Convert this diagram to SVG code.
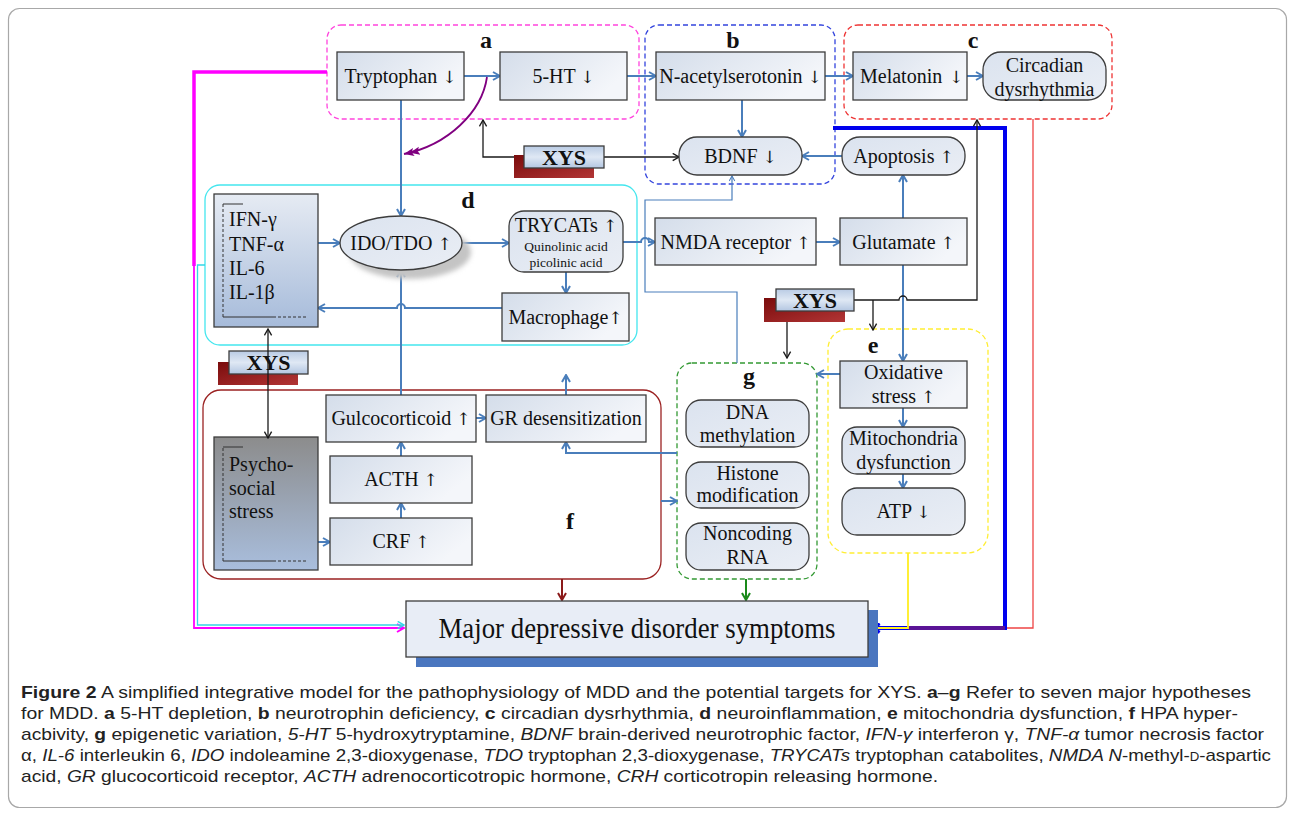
<svg xmlns="http://www.w3.org/2000/svg" width="1295" height="816" viewBox="0 0 1295 816">
<defs>
<linearGradient id="gBox" x1="0" y1="0" x2="1" y2="0.4"><stop offset="0" stop-color="#d4ddea"/><stop offset="1" stop-color="#f4f6fa"/></linearGradient>
<linearGradient id="gRnd" x1="0" y1="0" x2="1" y2="1"><stop offset="0" stop-color="#dbe3ef"/><stop offset="1" stop-color="#eaeef5"/></linearGradient>
<linearGradient id="gIfn" x1="0" y1="0" x2="0" y2="1"><stop offset="0" stop-color="#e6ebf3"/><stop offset="1" stop-color="#a6bbda"/></linearGradient>
<linearGradient id="gPsy" x1="0" y1="0" x2="0" y2="1"><stop offset="0" stop-color="#8c8c8c"/><stop offset="1" stop-color="#a9bedd"/></linearGradient>
<linearGradient id="gXys" x1="0" y1="0" x2="0" y2="1"><stop offset="0" stop-color="#b9cbe4"/><stop offset="0.5" stop-color="#dfe8f4"/><stop offset="1" stop-color="#b3c6e1"/></linearGradient>
<linearGradient id="gSh" x1="0" y1="0" x2="1" y2="1"><stop offset="0" stop-color="#7a0c0c"/><stop offset="1" stop-color="#b23535"/></linearGradient>
<filter id="blur" x="-20%" y="-20%" width="140%" height="140%"><feGaussianBlur stdDeviation="2.5"/></filter>
<marker id="ab" viewBox="0 0 10 10" refX="9" refY="5" markerWidth="10" markerHeight="10" markerUnits="userSpaceOnUse" orient="auto"><path d="M2,1 L9,5 L2,9" fill="none" stroke="#4a7ebb" stroke-width="2"/></marker>
<marker id="abs" viewBox="0 0 10 10" refX="9" refY="5" markerWidth="7" markerHeight="7" markerUnits="userSpaceOnUse" orient="auto"><path d="M2,1 L9,5 L2,9" fill="none" stroke="#4a7ebb" stroke-width="1.5"/></marker>
<marker id="ak" viewBox="0 0 10 10" refX="9" refY="5" markerWidth="9" markerHeight="9" markerUnits="userSpaceOnUse" orient="auto-start-reverse"><path d="M2,1 L9,5 L2,9" fill="none" stroke="#1a1a1a" stroke-width="1.5"/></marker>
<marker id="ap" viewBox="0 0 16 10" refX="16" refY="5" markerWidth="16" markerHeight="10" markerUnits="userSpaceOnUse" orient="auto"><path d="M6,1 L16,5 L6,9 L8,5Z M0,1 L10,5 L0,9 L2,5Z" fill="#800080"/></marker>
<marker id="ar" viewBox="0 0 10 10" refX="9" refY="5" markerWidth="10" markerHeight="10" markerUnits="userSpaceOnUse" orient="auto"><path d="M2,1 L9,5 L2,9" fill="none" stroke="#8b1a1a" stroke-width="2"/></marker>
<marker id="ag" viewBox="0 0 10 10" refX="9" refY="5" markerWidth="10" markerHeight="10" markerUnits="userSpaceOnUse" orient="auto"><path d="M2,1 L9,5 L2,9" fill="none" stroke="#1a8a1a" stroke-width="2"/></marker>
<marker id="am" viewBox="0 0 10 10" refX="9" refY="5" markerWidth="10" markerHeight="10" markerUnits="userSpaceOnUse" orient="auto"><path d="M2,1 L9,5 L2,9" fill="none" stroke="#ff00ff" stroke-width="2"/></marker>
<marker id="ac" viewBox="0 0 10 10" refX="9" refY="5" markerWidth="9" markerHeight="9" markerUnits="userSpaceOnUse" orient="auto"><path d="M2,1 L9,5 L2,9" fill="none" stroke="#33d6e6" stroke-width="1.6"/></marker>
<marker id="ay" viewBox="0 0 10 10" refX="9" refY="5" markerWidth="10" markerHeight="10" markerUnits="userSpaceOnUse" orient="auto"><path d="M2,1 L9,5 L2,9" fill="none" stroke="#ffee22" stroke-width="2"/></marker>
<marker id="abl" viewBox="0 0 10 10" refX="9" refY="5" markerWidth="11" markerHeight="11" markerUnits="userSpaceOnUse" orient="auto"><path d="M2,1 L9,5 L2,9" fill="none" stroke="#0000ee" stroke-width="3"/></marker>
</defs>
<style>
.t{font-family:"Liberation Serif","Times New Roman",serif;font-size:20px;fill:#111;text-anchor:middle}
.tl{font-family:"Liberation Serif","Times New Roman",serif;font-size:20px;fill:#111}
.ar{font-family:"DejaVu Serif","DejaVu Sans",serif;font-size:17px;fill:#111}
.sm{font-family:"Liberation Serif","Times New Roman",serif;font-size:13.5px;fill:#111;text-anchor:middle}
.lab{font-family:"Liberation Serif","Times New Roman",serif;font-size:24px;font-weight:bold;fill:#111;text-anchor:middle}
.xys{font-family:"Liberation Serif","Times New Roman",serif;font-size:22px;font-weight:bold;fill:#111;text-anchor:middle}
.box{fill:url(#gBox);stroke:#3c3c3c;stroke-width:1.3}
.rnd{fill:url(#gRnd);stroke:#3c3c3c;stroke-width:1.3}
.xb{fill:url(#gXys);stroke:#3c3c3c;stroke-width:1.3}
.xs{fill:url(#gSh)}
.grp{fill:none;stroke-width:1.3}
.bl{fill:none;stroke:#4a7ebb;stroke-width:2;marker-end:url(#ab)}
.bk{fill:none;stroke:#1a1a1a;stroke-width:1.3}
.cap{font-family:"Liberation Sans",Arial,sans-serif;font-size:17px;fill:#222}
.brk{fill:none;stroke:#333;stroke-width:1}
</style>
<rect x="8.5" y="8.5" width="1278" height="799" rx="11" fill="#fff" stroke="#a8a8a8" stroke-width="1.2"/>

<!-- group containers -->
<g id="group-a"><rect class="grp" x="327" y="25" width="312" height="94" rx="14" stroke="#ff44dd" stroke-dasharray="5,3"/><text class="lab" x="486" y="48">a</text></g>
<g id="group-b"><rect class="grp" x="645" y="25" width="190" height="159" rx="14" stroke="#3344dd" stroke-dasharray="5,3"/><text class="lab" x="733" y="48">b</text></g>
<g id="group-c"><rect class="grp" x="844" y="25" width="268" height="94" rx="14" stroke="#ee3333" stroke-dasharray="5,3"/><text class="lab" x="973" y="48">c</text></g>
<g id="group-d"><rect class="grp" x="205" y="185" width="432" height="160" rx="15" stroke="#44e6ee" stroke-width="1.6"/><text class="lab" x="468" y="208">d</text></g>
<g id="group-e"><rect class="grp" x="828" y="329" width="160" height="224" rx="20" stroke="#ffee33" stroke-dasharray="5,3" stroke-width="1.6"/><text class="lab" x="873" y="353">e</text></g>
<g id="group-f"><rect class="grp" x="203" y="390" width="458" height="189" rx="18" stroke="#9b2222"/><text class="lab" x="570" y="529">f</text></g>
<g id="group-g"><rect class="grp" x="677" y="363" width="140" height="216" rx="15" stroke="#339933" stroke-dasharray="5,3"/><text class="lab" x="749" y="384">g</text></g>

<!-- connectors -->
<g id="connectors">
<path d="M327,72 L194,72 L194,266" fill="none" stroke="#ff00ff" stroke-width="3.5"/>
<path d="M194,265 L194,628 L404,628" fill="none" stroke="#ff00ff" stroke-width="1.8" marker-end="url(#am)"/>
<path d="M205,265 L197.5,265 L197.5,625 L404,625" fill="none" stroke="#33d6e6" stroke-width="1.3" marker-end="url(#ac)"/>
<path d="M1033,119 L1033,628 L1005,628" fill="none" stroke="#ee4444" stroke-width="1.3"/>
<path d="M833,128 L1005,128 L1005,628 L872,628" fill="none" stroke="#0000ee" stroke-width="4" marker-end="url(#abl)"/>
<path d="M908,628 L1005,628" fill="none" stroke="#5a1496" stroke-width="4"/>
<path d="M908,553 L908,628 L870,628" fill="none" stroke="#ffee22" stroke-width="1.8" marker-end="url(#ay)"/>

<path class="bl" d="M464,76 L500,76"/>
<path class="bl" d="M627,76 L656,76"/>
<path class="bl" d="M825,76 L853,76"/>
<path class="bl" d="M967,76 L983,76"/>
<path class="bl" d="M742,100 L742,137"/>
<path class="bl" d="M842,156 L802,156"/>
<path class="bl" d="M401,100 L401,216"/>
<path class="bl" d="M318,243 L340,243"/>
<path class="bl" d="M462,243 L509,243"/>
<path class="bl" d="M566,272 L566,293"/>
<path class="bl" d="M502,308 L405,308 A4,4 0 0 0 397,308 L318,308"/>
<path class="bl" d="M623,242 L641,242 A4,4 0 0 1 649,242 L655,242"/>
<path class="bl" d="M816,242 L840,242"/>
<path class="bl" d="M903,218 L903,175"/>
<path class="bl" d="M903,265 L903,361"/>
<path class="bl" d="M903,408 L903,427"/>
<path class="bl" d="M903,474 L903,488"/>
<path class="bl" d="M840,374 L817,374"/>
<path class="bl" d="M401,395 L401,270"/>
<path class="bl" d="M401,518 L401,503"/>
<path class="bl" d="M401,456 L401,442"/>
<path class="bl" d="M476,418 L486,418"/>
<path class="bl" d="M566,395 L566,375"/>
<path class="bl" d="M677,453 L566,453 L566,442"/>
<path class="bl" d="M661,501 L677,501"/>
<path class="bl" d="M315,542 L330,542"/>
<path d="M737,363 L737,292 L645,292 L645,200 L732,200 L732,176" fill="none" stroke="#4a7ebb" stroke-width="1.2" marker-end="url(#abs)"/>

<path class="bk" d="M524,157 L483,157 L483,120" marker-end="url(#ak)"/>
<path class="bk" d="M604,157 L679,157" marker-end="url(#ak)"/>
<path class="bk" d="M854,300 L899,300 A4,4 0 0 1 907,300 L977,300 L977,120" marker-end="url(#ak)"/>
<path class="bk" d="M873,300 L873,330" marker-end="url(#ak)"/>
<path class="bk" d="M787,311 L787,358" marker-end="url(#ak)"/>

<path d="M487,77 C482,112 448,145 404,154" fill="none" stroke="#800080" stroke-width="1.8" marker-end="url(#ap)"/>

<path d="M562,579 L562,600" fill="none" stroke="#8b1a1a" stroke-width="2" marker-end="url(#ar)"/>
<path d="M746,579 L746,600" fill="none" stroke="#1a8a1a" stroke-width="2" marker-end="url(#ag)"/>
</g>

<!-- nodes -->
<g id="tryptophan"><rect class="box" x="337" y="52" width="127" height="48"/><text class="t" x="400.5" y="83">Tryptophan <tspan class="ar">↓</tspan></text></g>
<g id="serotonin"><rect class="box" x="500" y="52" width="127" height="48"/><text class="t" x="563.5" y="83">5-HT <tspan class="ar">↓</tspan></text></g>
<g id="nacetylserotonin"><rect class="box" x="656" y="52" width="169" height="48"/><text class="t" x="740.5" y="83">N-acetylserotonin <tspan class="ar">↓</tspan></text></g>
<g id="melatonin"><rect class="box" x="853" y="52" width="114" height="48"/><text class="tl" x="860" y="83">Melatonin<tspan class="ar" x="949">↓</tspan></text></g>
<g id="circadian"><rect class="rnd" x="983" y="52" width="123" height="48" rx="18"/><text class="t" x="1044.5" y="72">Circadian</text><text class="t" x="1044.5" y="96">dysrhythmia</text></g>
<g id="bdnf"><rect class="rnd" x="679" y="137" width="123" height="38" rx="18"/><text class="t" x="740.5" y="163">BDNF <tspan class="ar">↓</tspan></text></g>
<g id="apoptosis"><rect class="rnd" x="842" y="137" width="123" height="38" rx="18"/><text class="t" x="903.5" y="163">Apoptosis <tspan class="ar">↑</tspan></text></g>

<g id="cytokines"><rect x="214" y="194" width="104" height="133" fill="url(#gIfn)" stroke="#3c3c3c" stroke-width="1.3"/>
<path class="brk" d="M223,204 L223,317" stroke-dasharray="3,2"/><path class="brk" d="M243,204 L223,204"/><path class="brk" d="M223,317 L273,317"/><path class="brk" d="M273,317 L308,317" stroke-dasharray="3,2"/>
<text class="tl" x="229" y="226">IFN-γ</text><text class="tl" x="229" y="251">TNF-α</text><text class="tl" x="229" y="275">IL-6</text><text class="tl" x="229" y="299">IL-1β</text></g>
<g id="ido"><ellipse cx="410" cy="252" rx="61" ry="27" fill="#c4c4c4" filter="url(#blur)"/><ellipse cx="401" cy="243" rx="61" ry="27" fill="url(#gRnd)" stroke="#3c3c3c" stroke-width="1.3"/><text class="t" x="401" y="250">IDO/TDO <tspan class="ar">↑</tspan></text></g>
<g id="trycats"><rect class="rnd" x="509" y="211" width="114" height="61" rx="15"/><text class="t" x="566" y="232">TRYCATs <tspan class="ar">↑</tspan></text><text class="sm" x="566" y="251">Quinolinic acid</text><text class="sm" x="566" y="267">picolinic acid</text></g>
<g id="macrophage"><rect class="box" x="502" y="293" width="127" height="48"/><text class="t" x="565.5" y="324">Macrophage<tspan class="ar">↑</tspan></text></g>
<g id="nmda"><rect class="box" x="655" y="218" width="161" height="47"/><text class="t" x="735.5" y="248.5">NMDA receptor <tspan class="ar">↑</tspan></text></g>
<g id="glutamate"><rect class="box" x="840" y="218" width="127" height="47"/><text class="t" x="903.5" y="248.5">Glutamate <tspan class="ar">↑</tspan></text></g>

<g id="oxidative"><rect class="box" x="840" y="361" width="127" height="47"/><text class="t" x="903.5" y="379">Oxidative</text><text class="t" x="903.5" y="403">stress <tspan class="ar">↑</tspan></text></g>
<g id="mitochondria"><rect class="rnd" x="842" y="427" width="123" height="47" rx="15"/><text class="t" x="903.5" y="445">Mitochondria</text><text class="t" x="903.5" y="469">dysfunction</text></g>
<g id="atp"><rect class="rnd" x="842" y="488" width="123" height="47" rx="15"/><text class="t" x="903.5" y="518">ATP <tspan class="ar">↓</tspan></text></g>

<g id="dna-methylation"><rect class="rnd" x="686" y="400" width="123" height="47" rx="15"/><text class="t" x="747.5" y="419">DNA</text><text class="t" x="747.5" y="442">methylation</text></g>
<g id="histone"><rect class="rnd" x="686" y="462" width="123" height="46" rx="15"/><text class="t" x="747.5" y="480">Histone</text><text class="t" x="747.5" y="502">modification</text></g>
<g id="noncoding"><rect class="rnd" x="686" y="523" width="123" height="47" rx="15"/><text class="t" x="747.5" y="540">Noncoding</text><text class="t" x="747.5" y="564">RNA</text></g>

<g id="glucocorticoid"><rect class="box" x="326" y="395" width="150" height="47"/><text class="t" x="401" y="425">Gulcocorticoid <tspan class="ar">↑</tspan></text></g>
<g id="gr-desensitization"><rect class="box" x="486" y="395" width="160" height="47"/><text class="t" x="566" y="425">GR desensitization</text></g>
<g id="acth"><rect class="box" x="330" y="456" width="142" height="47"/><text class="t" x="401" y="486">ACTH <tspan class="ar">↑</tspan></text></g>
<g id="crf"><rect class="box" x="330" y="518" width="142" height="47"/><text class="t" x="401" y="548">CRF <tspan class="ar">↑</tspan></text></g>
<g id="psychosocial"><rect x="214" y="437" width="104" height="133" fill="url(#gPsy)" stroke="#3c3c3c" stroke-width="1.3"/>
<path class="brk" d="M223,561 L223,447" stroke-dasharray="3,2"/><path class="brk" d="M243,447 L223,447"/><path class="brk" d="M223,561 L273,561"/><path class="brk" d="M273,561 L308,561" stroke-dasharray="3,2"/>
<text class="tl" x="229" y="471">Psycho-</text><text class="tl" x="229" y="495">social</text><text class="tl" x="229" y="518">stress</text></g>

<g id="xys-1"><rect class="xs" x="514" y="155" width="80" height="23"/><rect class="xb" x="524" y="146" width="80" height="22"/><text class="xys" x="564" y="165">XYS</text></g>
<g id="xys-2"><rect class="xs" x="764" y="298" width="81" height="24"/><rect class="xb" x="776" y="289" width="78" height="22"/><text class="xys" x="815" y="308">XYS</text></g>
<g id="xys-3"><rect class="xs" x="218" y="362" width="80" height="23"/><rect class="xb" x="229" y="351" width="79" height="23"/><text class="xys" x="268.5" y="370">XYS</text></g>
<path class="bk" d="M268,329 L268,438" marker-start="url(#ak)" marker-end="url(#ak)"/>

<g id="mdd"><rect x="416" y="610" width="462" height="57" fill="#4a76bf"/><rect x="406" y="601" width="462" height="56" fill="#e8edf6" stroke="#3c3c3c" stroke-width="1.3"/><text class="t" x="637" y="638" style="font-size:29px" textLength="397" lengthAdjust="spacingAndGlyphs">Major depressive disorder symptoms</text></g>

<!-- caption -->
<g id="caption">
<text class="cap" x="21" y="698" textLength="1230" lengthAdjust="spacingAndGlyphs"><tspan font-weight="bold">Figure 2</tspan>  A simplified integrative model for the pathophysiology of MDD and the potential targets for XYS. <tspan font-weight="bold">a</tspan>–<tspan font-weight="bold">g</tspan> Refer to seven major hypotheses</text>
<text class="cap" x="21" y="719" textLength="1217" lengthAdjust="spacingAndGlyphs">for MDD. <tspan font-weight="bold">a</tspan> 5-HT depletion, <tspan font-weight="bold">b</tspan> neurotrophin deficiency, <tspan font-weight="bold">c</tspan> circadian dysrhythmia, <tspan font-weight="bold">d</tspan> neuroinflammation, <tspan font-weight="bold">e</tspan> mitochondria dysfunction, <tspan font-weight="bold">f</tspan> HPA hyper-</text>
<text class="cap" x="21" y="740" textLength="1243" lengthAdjust="spacingAndGlyphs">acbivity, <tspan font-weight="bold">g</tspan> epigenetic variation, <tspan font-style="italic">5-HT</tspan> 5-hydroxytryptamine, <tspan font-style="italic">BDNF</tspan> brain-derived neurotrophic factor, <tspan font-style="italic">IFN-γ</tspan> interferon γ, <tspan font-style="italic">TNF-α</tspan> tumor necrosis factor</text>
<text class="cap" x="21" y="761" textLength="1250" lengthAdjust="spacingAndGlyphs">α, <tspan font-style="italic">IL-6</tspan> interleukin 6, <tspan font-style="italic">IDO</tspan> indoleamine 2,3-dioxygenase, <tspan font-style="italic">TDO</tspan> tryptophan 2,3-dioxygenase, <tspan font-style="italic">TRYCATs</tspan> tryptophan catabolites, <tspan font-style="italic">NMDA N</tspan>-methyl-<tspan font-size="12">D</tspan>-aspartic</text>
<text class="cap" x="21" y="782" textLength="917" lengthAdjust="spacingAndGlyphs">acid, <tspan font-style="italic">GR</tspan> glucocorticoid receptor, <tspan font-style="italic">ACTH</tspan> adrenocorticotropic hormone, <tspan font-style="italic">CRH</tspan> corticotropin releasing hormone.</text>
</g>
</svg>
